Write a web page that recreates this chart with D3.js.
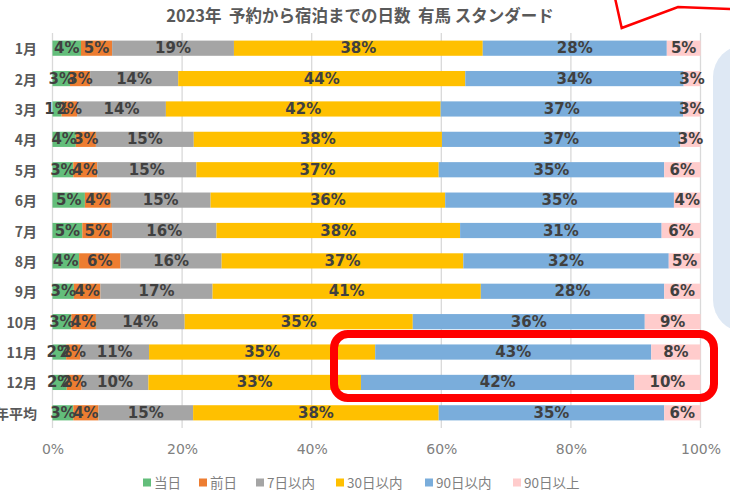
<!DOCTYPE html>
<html><head><meta charset="utf-8">
<script src="https://cdn.jsdelivr.net/npm/d3@7"></script>
<style>
body{margin:0;background:#fff;}
svg{display:block;font-family:"Noto Sans CJK JP","Noto Sans",sans-serif;}
.lbl{font-family:"DejaVu Sans",sans-serif;}
</style></head>
<body><svg id="c" width="730" height="490"></svg>
<script>
const categories = ["1月","2月","3月","4月","5月","6月","7月","8月","9月","10月","11月","12月","年平均"];
const seriesNames = ["当日","前日","7日以内","30日以内","90日以内","90日以上"];
const sameDay   = [4.4,2.7,1.4,3.6,3.2,5.0,4.6,4.1,3.3,2.9,2.1,2.2,3.2];
const prevDay   = [4.8,3.1,2.4,3.1,3.7,4.0,4.6,6.4,4.1,3.8,2.2,2.3,3.9];
const within7   = [18.8,13.6,13.7,15.1,15.3,15.4,16.1,15.6,17.3,13.7,10.6,10.3,14.6];
const within30  = [38.4,44.3,42.4,38.3,37.4,36.2,37.6,37.3,41.4,35.2,34.9,32.8,37.9];
const within90  = [28.4,33.7,37.4,36.8,34.8,35.3,31.1,31.7,28.3,35.8,42.6,42.2,34.8];
const over90    = [5.2,2.6,2.7,3.1,5.6,4.1,6.0,4.9,5.6,8.6,7.6,10.2,5.6];
const xTicks = [0,20,40,60,80,100];
const colors = ["#63be7b","#ed7d31","#a5a5a5","#ffc000","#7aaddb","#ffcccc"];

const seriesValues = [sameDay,prevDay,within7,within30,within90,over90];
const rows = categories.map((c,i)=>{const o={cat:c}; seriesNames.forEach((s,j)=>o[s]=seriesValues[j][i]); return o;});
const stacked = d3.stack().keys(seriesNames)(rows);

const svg = d3.select("#c");
const x = d3.scaleLinear().domain([0,100]).range([52.5,700.5]);
const y = d3.scaleBand().domain(categories).range([33,428]).paddingInner(0.5).paddingOuter(0.25);

// decorative light blue shape at right
svg.append("rect").attr("x",713).attr("y",45).attr("width",90).attr("height",287).attr("rx",32).attr("fill","#dee8f4");

// gridlines
svg.append("g").selectAll("line").data(xTicks).join("line")
  .attr("x1",d=>x(d)).attr("x2",d=>x(d)).attr("y1",33).attr("y2",428)
  .attr("stroke","#d9d9d9").attr("stroke-width",1.3);

// bars
const g = svg.append("g");
stacked.forEach((s,j)=>{
  g.append("g").selectAll("rect").data(s).join("rect")
    .attr("x",d=>x(d[0])).attr("width",d=>x(d[1])-x(d[0]))
    .attr("y",(d,i)=>y(categories[i])).attr("height",y.bandwidth())
    .attr("fill",colors[j]);
});
// labels
stacked.forEach((s,j)=>{
  g.append("g").selectAll("text").data(s).join("text")
    .attr("class","lbl")
    .attr("x",d=>(x(d[0])+x(d[1]))/2).attr("y",(d,i)=>y(categories[i])+y.bandwidth()/2)
    .attr("text-anchor","middle").attr("dominant-baseline","central")
    .attr("font-size",15).attr("font-weight","bold").attr("fill","#404040")
    .text(d=>Math.round(d[1]-d[0])+"%");
});

// y axis labels
svg.append("g").selectAll("text").data(categories).join("text")
  .attr("x",37).attr("y",d=>y(d)+y.bandwidth()/2).attr("text-anchor","end")
  .attr("dominant-baseline","central").attr("font-size",14).attr("font-weight","bold")
  .attr("fill","#595959").text(d=>d);

// x axis
const xAxis = d3.axisBottom(x).tickValues(xTicks).tickFormat(d=>d+"%").tickSize(0).tickPadding(0);
const ax = svg.append("g").attr("transform","translate(0,449)").call(xAxis);
ax.select(".domain").remove();
ax.selectAll("text").attr("class","lbl").attr("font-size",14).attr("fill","#808080").attr("dy","0.35em");

// title
svg.append("text").attr("x",360).attr("y",15).attr("text-anchor","middle")
  .attr("dominant-baseline","central").attr("font-size",16.5).attr("font-weight","bold")
  .attr("fill","#595959").attr("xml:space","preserve")
  .text("2023年  予約から宿泊までの日数  有馬 スタンダード");

// legend
const legendX = [143,199,256,336,425,513];
const lg = svg.append("g").selectAll("g").data(seriesNames).join("g")
  .attr("transform",(d,i)=>`translate(${legendX[i]},482)`);
lg.append("rect").attr("x",0).attr("y",-3.5).attr("width",8).attr("height",8).attr("fill",(d,i)=>colors[i]);
lg.append("text").attr("x",11).attr("y",0).attr("dominant-baseline","central")
  .attr("font-size",13.5).attr("fill","#7f7f7f").text(d=>d);

// red highlight box
svg.append("rect").attr("x",334).attr("y",334).attr("width",380).attr("height",64).attr("rx",14)
  .attr("fill","none").attr("stroke","#ff0000").attr("stroke-width",8);
// red callout line
svg.append("path").attr("d",d3.line()([[615,-2],[621.7,28],[678,7],[732,9]]))
  .attr("fill","none").attr("stroke","#ff0000").attr("stroke-width",2.5);
</script></body></html>
